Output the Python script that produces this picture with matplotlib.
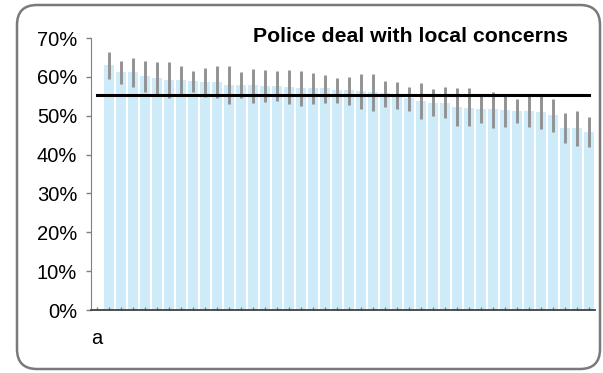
import numpy as np
import matplotlib
matplotlib.use("Agg")
import matplotlib.pyplot as plt
from matplotlib.patches import FancyBboxPatch

plt.rcParams["font.family"] = ["Liberation Sans", "DejaVu Sans"]

# categories: the first one is labelled "a" and has no bar
labels = ["a"] + [""] * 41
values = [63.0, 61.2, 61.2, 60.2, 59.7, 59.2, 59.2, 58.9, 58.7, 58.7,
          57.9, 57.9, 57.9, 57.6, 57.6, 57.4, 57.1, 57.1, 57.1, 56.6,
          56.6, 56.4, 56.1, 55.8, 55.0, 54.6, 53.8, 53.3, 53.3, 52.2, 52.0,
          51.7, 51.7, 51.5, 51.2, 51.2, 51.0, 50.2, 46.8, 46.8, 45.8]
ci_high = [66.5, 64.1, 64.9, 64.1, 63.9, 63.9, 62.8, 61.5, 62.3, 62.7,
           62.9, 61.3, 62.0, 61.8, 61.5, 61.7, 61.6, 61.0, 60.6, 59.7,
           60.0, 60.7, 60.7, 59.0, 58.8, 57.5, 58.3, 56.8, 57.3, 57.1, 57.2,
           55.4, 56.1, 55.4, 54.2, 55.4, 55.1, 54.4, 50.6, 51.1, 49.6]
ci_low = [59.4, 58.2, 57.4, 56.2, 55.5, 54.5, 55.5, 56.2, 54.8, 54.5,
          52.9, 54.5, 53.4, 53.6, 53.8, 53.1, 52.6, 53.1, 53.3, 53.4,
          52.8, 51.6, 51.3, 52.3, 51.8, 51.1, 49.2, 49.9, 49.4, 47.3, 47.3,
          48.0, 46.8, 47.2, 48.2, 47.2, 46.7, 45.8, 43.1, 42.2, 41.9]
average = 55.3
title = "Police deal with local concerns"

fig = plt.figure(figsize=(6.03, 3.73), dpi=100)
ax = fig.add_axes([91 / 603, 1 - 310 / 373, 504 / 603, 272 / 373])

x_all = np.arange(len(labels))
x_bars = x_all[1:]
vals = np.array(values) / 100
lo = vals - np.array(ci_low) / 100
hi = np.array(ci_high) / 100 - vals

ax.bar(x_bars, vals, width=0.83, color="#cdebf8", zorder=1)
ax.errorbar(x_bars, vals, yerr=[lo, hi], fmt="none", ecolor="#929292",
            elinewidth=2.1, capsize=0, zorder=2)
ax.plot(x_all, [average / 100] * len(x_all), color="black", lw=2.2, zorder=3)

ax.set_xlim(-0.5, len(labels) - 0.5)
ax.set_ylim(0, 0.7)
ax.set_yticks(np.arange(0, 0.71, 0.1))
ax.set_yticklabels([f"{int(round(v * 100))}%" for v in np.arange(0, 0.71, 0.1)])
ax.set_xticks(x_all)
ax.set_xticklabels(labels)

ax.tick_params(axis="y", direction="out", length=3.5, width=1, color="#808080",
               labelsize=14.5, pad=6.5)
ax.tick_params(axis="x", direction="in", length=2, width=1, color="#808080",
               labelsize=14.5, pad=14)

for s in ["top", "right"]:
    ax.spines[s].set_visible(False)
ax.spines["left"].set_color("#808080")
ax.spines["bottom"].set_color("#404040")
ax.spines["bottom"].set_linewidth(1.3)

fig.text(410.5 / 603, 1 - 42.3 / 373, title, ha="center", va="baseline",
         fontsize=15.3, fontweight="bold")

border = FancyBboxPatch((17, 373 - 369), 583, 364,
                        boxstyle="round,pad=0,rounding_size=20",
                        transform=None, facecolor="none", edgecolor="#7a7a7a",
                        lw=1.8)
fig.patches.append(border)

fig.savefig("out.png", dpi=100)
